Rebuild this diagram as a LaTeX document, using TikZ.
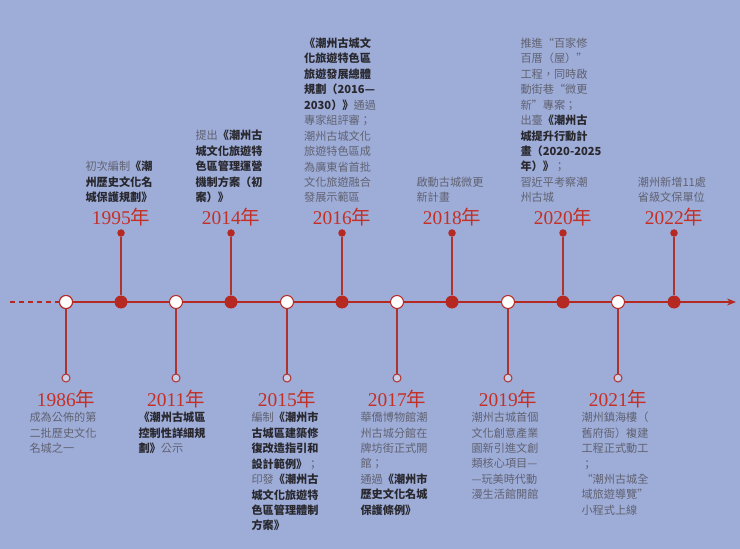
\documentclass[tikz,border=0pt]{standalone}
\usepackage{fontspec}
\newfontfamily\cjk{Noto Sans CJK TC}
\newfontfamily\yearfont{Liberation Serif}
\usetikzlibrary{arrows.meta}
\definecolor{bg}{RGB}{158,172,216}
\definecolor{tred}{RGB}{182,40,34}
\definecolor{yred}{RGB}{196,48,38}
\definecolor{stemred}{RGB}{176,50,44}
\definecolor{txtgrey}{RGB}{96,98,112}
\definecolor{txtdark}{RGB}{40,40,46}
\newcommand\yrlab[1]{#1{\cjk 年}}
\newcommand\dk[1]{{\color{txtdark}\bfseries #1}}
\tikzset{
 axisline/.style={tred, line width=1.6bp},
 bigfill/.style={circle, fill=tred, minimum size=13bp, inner sep=0pt},
 bigopen/.style={circle, draw=tred, fill=white, line width=1bp, minimum size=13bp, inner sep=0pt},
 smallfill/.style={circle, fill=tred, minimum size=7.5bp, inner sep=0pt},
 smallopen/.style={circle, draw=stemred, fill=bg!55!white, line width=1bp, minimum size=8bp, inner sep=0pt},
 stem/.style={stemred, line width=1.8bp},
 yearlbl/.style={text=yred, font=\yearfont\fontsize{19.5}{19.5}\selectfont, inner sep=0pt},
 desc/.style={font=\cjk\fontsize{11.2}{15.5}\selectfont, text=txtgrey, align=left, inner sep=0pt},
}
\begin{document}
\begin{tikzpicture}[x=1bp,y=-1bp]
\useasboundingbox[fill=bg] (0,0) rectangle (740,549);
% axis
\coordinate (axstart) at (10,302);
\coordinate (axend) at (736,302);
\node[bigopen] (p1986) at (66,302) {};
\draw[axisline, dashed, dash pattern=on 5bp off 4bp] (axstart) -- (p1986);
\draw[axisline, -{Stealth[length=9bp,width=7bp]}] (p1986) -- (axend);
\node[bigopen] (p1986b) at (66,302) {};

% ---------- upper events ----------
% 1995
\node[bigfill] (p1995) at (121,302) {};
\node[smallfill] (d1995) at (121,233) {};
\draw[stem] (p1995) -- (d1995);
\node[yearlbl] (y1995) at (121,217) {\yrlab{1995}};
\node[desc, anchor=south] (t1995) at (119,203) {初次編制\dk{《潮}\\\dk{州歷史文化名}\\\dk{城保護規劃》}};
% 2014
\node[bigfill] (p2014) at (231,302) {};
\node[smallfill] (d2014) at (231,233) {};
\draw[stem] (p2014) -- (d2014);
\node[yearlbl] (y2014) at (231,217) {\yrlab{2014}};
\node[desc, anchor=south] (t2014) at (229,203) {提出\dk{《潮州古}\\\dk{城文化旅遊特}\\\dk{色區管理運營}\\\dk{機制方案（初}\\\dk{案）》}};
% 2016
\node[bigfill] (p2016) at (342,302) {};
\node[smallfill] (d2016) at (342,233) {};
\draw[stem] (p2016) -- (d2016);
\node[yearlbl] (y2016) at (342,217) {\yrlab{2016}};
\node[desc, anchor=south] (t2016) at (340,203) {\dk{《潮州古城文}\\\dk{化旅遊特色區}\\\dk{旅遊發展總體}\\\dk{規劃（2016—}\\\dk{2030）》}通過\\專家組評審；\\潮州古城文化\\旅遊特色區成\\為廣東省首批\\文化旅遊融合\\發展示範區};
% 2018
\node[bigfill] (p2018) at (452,302) {};
\node[smallfill] (d2018) at (452,233) {};
\draw[stem] (p2018) -- (d2018);
\node[yearlbl] (y2018) at (452,217) {\yrlab{2018}};
\node[desc, anchor=south] (t2018) at (450,203) {啟動古城微更\\新計畫};
% 2020
\node[bigfill] (p2020) at (563,302) {};
\node[smallfill] (d2020) at (563,233) {};
\draw[stem] (p2020) -- (d2020);
\node[yearlbl] (y2020) at (563,217) {\yrlab{2020}};
\node[desc, anchor=south] (t2020) at (561,203) {推進“百家修\\百厝（屋）”\\工程，同時啟\\動街巷“微更\\新”專案；\\出臺\dk{《潮州古}\\\dk{城提升行動計}\\\dk{畫（2020-2025}\\\dk{年）》}；\\習近平考察潮\\州古城};
% 2022
\node[bigfill] (p2022) at (674,302) {};
\node[smallfill] (d2022) at (674,233) {};
\draw[stem] (p2022) -- (d2022);
\node[yearlbl] (y2022) at (674,217) {\yrlab{2022}};
\node[desc, anchor=south] (t2022) at (672,203) {潮州新增11處\\省級文保單位};

% ---------- lower events ----------
% 1986
\node[smallopen] (d1986) at (66,378) {};
\draw[stem] (p1986b) -- (d1986);
\node[yearlbl] (y1986) at (66,399) {\yrlab{1986}};
\node[desc, anchor=north] (t1986) at (63,412) {成為公佈的第\\二批歷史文化\\名城之一};
% 2011
\node[bigopen] (p2011) at (176,302) {};
\node[smallopen] (d2011) at (176,378) {};
\draw[stem] (p2011) -- (d2011);
\node[yearlbl] (y2011) at (176,399) {\yrlab{2011}};
\node[desc, anchor=north] (t2011) at (172,412) {\dk{《潮州古城區}\\\dk{控制性詳細規}\\\dk{劃》}公示};
% 2015
\node[bigopen] (p2015) at (287,302) {};
\node[smallopen] (d2015) at (287,378) {};
\draw[stem] (p2015) -- (d2015);
\node[yearlbl] (y2015) at (287,399) {\yrlab{2015}};
\node[desc, anchor=north] (t2015) at (285,412) {編制\dk{《潮州市}\\\dk{古城區建築修}\\\dk{復改造指引和}\\\dk{設計範例》}；\\印發\dk{《潮州古}\\\dk{城文化旅遊特}\\\dk{色區管理體制}\\\dk{方案》}};
% 2017
\node[bigopen] (p2017) at (397,302) {};
\node[smallopen] (d2017) at (397,378) {};
\draw[stem] (p2017) -- (d2017);
\node[yearlbl] (y2017) at (397,399) {\yrlab{2017}};
\node[desc, anchor=north] (t2017) at (394,412) {華僑博物館潮\\州古城分館在\\牌坊街正式開\\館；\\通過\dk{《潮州市}\\\dk{歷史文化名城}\\\dk{保護條例》}};
% 2019
\node[bigopen] (p2019) at (508,302) {};
\node[smallopen] (d2019) at (508,378) {};
\draw[stem] (p2019) -- (d2019);
\node[yearlbl] (y2019) at (508,399) {\yrlab{2019}};
\node[desc, anchor=north] (t2019) at (505,412) {潮州古城首個\\文化創意產業\\園新引進文創\\類核心項目—\\—玩美時代動\\漫生活館開館};
% 2021
\node[bigopen] (p2021) at (618,302) {};
\node[smallopen] (d2021) at (618,378) {};
\draw[stem] (p2021) -- (d2021);
\node[yearlbl] (y2021) at (618,399) {\yrlab{2021}};
\node[desc, anchor=north] (t2021) at (615,412) {潮州鎮海樓（\\舊府衙）複建\\工程正式動工\\；\\“潮州古城全\\域旅遊導覽”\\小程式上線};
\end{tikzpicture}
\end{document}
